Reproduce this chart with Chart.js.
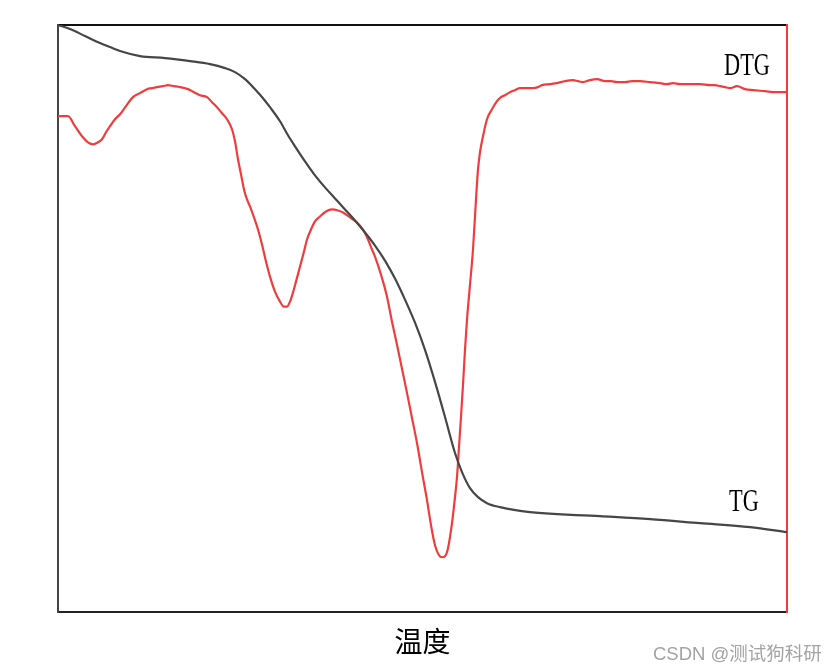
<!DOCTYPE html>
<html>
<head>
<meta charset="utf-8">
<script src="https://cdn.jsdelivr.net/npm/chart.js@4.4.0/dist/chart.umd.min.js"></script>
<style>
  html, body { margin: 0; padding: 0; background: #fff; }
  #wrap { position: relative; width: 840px; height: 672px; }
  #mark { position: absolute; left: 653px; top: 639px; font-family: "Liberation Sans", "Noto Sans CJK SC", sans-serif; font-size: 18.5px; color: #a3a3a3; white-space: nowrap; }
</style>
</head>
<body>
<div id="wrap">
<canvas id="c" width="840" height="672"></canvas>
<div id="mark">CSDN @测试狗科研</div>
</div>
<script>
// TG curve (x: temperature units, y: signal units)
const tgTemp = [0,12,27,42,52,62,82,107,132,152,167,177,187,197,205,212,222,230,237,247,257,267,277,287,297,307,317,327,337,347,357,367,377,387,397,404,412,420,429,442,472,542,592,642,692,729];
const tgMass = [586,582,575,568,564,560,555,553,550,547,543,539,532,522,513,504,490,476,465,450,436,424,413,402,391,379,366,351,333,312,289,262,230,195,159,140,124,115,109,105,100,96,93,89,85,80];

// DTG curve
const dtgTemp = [0,10,17,24,30,35,40,44,48,52,57,62,68,75,82,89,94,99,105,110,116,122,130,136,142,149,154,159,164,169,174,177,180,183,186,189,192,196,200,204,208,212,217,222,226,229,232,235,238,242,246,249,253,257,262,268,274,280,285,292,299,305,310,314,317,323,329,334,339,344,349,354,359,364,369,373,377,381,384,387,390,394,397,399,401,403,405,407,409,412,415,418,420,422,425,429,434,439,443,447,452,457,462,468,475,480,484,492,499,507,515,520,525,532,539,547,553,559,567,574,582,592,602,609,615,622,632,642,652,657,662,667,672,679,687,695,707,717,729];
const dtgValue = [495,495,485,475,469,467,469,472,479,485,492,497,505,514,518,522,523,524,525,526,525,524,522,519,516,514,509,504,498,492,482,470,452,437,422,412,405,394,382,367,350,335,320,310,305,305,310,319,330,345,360,372,382,390,395,400,402,401,399,394,389,382,372,362,355,337,315,290,267,243,219,194,169,140,112,87,67,57,55,56,64,89,115,135,165,195,227,262,292,327,362,412,442,459,475,492,502,510,514,516,519,521,523,523,523,524,526,527,528,530,531,530,529,531,532,530,530,529,529,530,530,529,528,527,528,527,527,527,526,526,525,524,523,525,522,521,520,519,519];

const labelDefs = [
  { text: 'DTG', xv: 689, yv: 544 },
  { text: 'TG',  xv: 686, yv: 109 }
];

const tgPts = tgTemp.map((t, i) => ({ x: t, y: tgMass[i] }));
const dtgPts = dtgTemp.map((t, i) => ({ x: t, y: dtgValue[i] }));

const labelPlugin = {
  id: 'curveLabels',
  afterDatasetsDraw(chart) {
    const ctx = chart.ctx;
    const xs = chart.scales.x, ys = chart.scales.y;
    ctx.save();
    ctx.fillStyle = '#000';
    ctx.font = '31px "Liberation Serif", serif';
    ctx.textAlign = 'center';
    ctx.textBaseline = 'middle';
    labelDefs.forEach(l => {
      const px = xs.getPixelForValue(l.xv), py = ys.getPixelForValue(l.yv);
      ctx.save();
      ctx.translate(px, py);
      ctx.scale(0.72, 1);
      ctx.fillText(l.text, 0, 0);
      ctx.restore();
    });
    ctx.restore();
  }
};

new Chart(document.getElementById('c'), {
  type: 'line',
  data: {
    datasets: [
      { label: 'TG', data: tgPts, yAxisID: 'y', borderColor: '#464646', borderWidth: 2.2, pointRadius: 0, cubicInterpolationMode: 'monotone', fill: false },
      { label: 'DTG', data: dtgPts, yAxisID: 'y2', borderColor: '#f03c3c', borderWidth: 2.2, pointRadius: 0, cubicInterpolationMode: 'monotone', fill: false }
    ]
  },
  options: {
    responsive: false,
    devicePixelRatio: 1,
    animation: false,
    layout: { padding: { left: 58, right: 53, top: 25, bottom: 14 } },
    plugins: { legend: { display: false }, tooltip: { enabled: false } },
    scales: {
      x: {
        type: 'linear', min: 0, max: 729, position: 'bottom',
        ticks: { display: false },
        grid: { display: false, drawTicks: false },
        border: { display: true, color: '#222', width: 2 },
        title: { display: true, text: '温度', color: '#000', font: { family: '"Noto Sans CJK SC", sans-serif', size: 28 }, padding: { top: 12, bottom: 0 } }
      },
      xTop: {
        type: 'linear', min: 0, max: 729, position: 'top',
        ticks: { display: false },
        grid: { display: false, drawTicks: false },
        border: { display: true, color: '#111', width: 2 }
      },
      y: {
        type: 'linear', min: 0, max: 586, position: 'left',
        ticks: { display: false },
        grid: { display: false, drawTicks: false },
        border: { display: true, color: '#444', width: 2 }
      },
      y2: {
        type: 'linear', min: 0, max: 586, position: 'right',
        ticks: { display: false },
        grid: { display: false, drawTicks: false },
        border: { display: true, color: '#f03c3c', width: 2 }
      }
    }
  },
  plugins: [labelPlugin]
});
</script>
</body>
</html>
